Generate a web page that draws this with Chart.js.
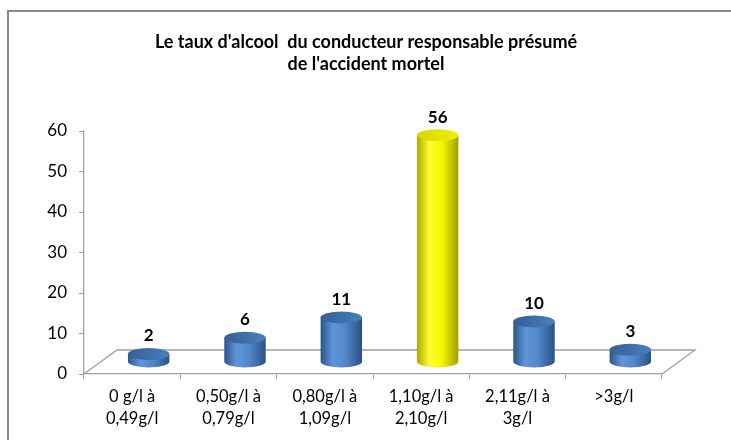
<!DOCTYPE html>
<html>
<head>
<meta charset="utf-8">
<script src="https://cdn.jsdelivr.net/npm/chart.js@4/dist/chart.umd.min.js"></script>
<style>
  html, body { margin: 0; padding: 0; background: #fff; }
  #wrap { width: 731px; height: 440px; position: relative; }
</style>
</head>
<body>
<div id="wrap"><canvas id="myChart"></canvas></div>
<script>
// data
const titleLines = ["Le taux d'alcool  du conducteur responsable présumé", "de l'accident mortel"]
const categories = [
  ['0 g/l à', '0,49g/l'],
  ['0,50g/l à', '0,79g/l'],
  ['0,80g/l à', '1,09g/l'],
  ['1,10g/l à', '2,10g/l'],
  ['2,11g/l à', '3g/l'],
  ['>3g/l']
]
const values = [2, 6, 11, 56, 10, 3]
const barTone = ['blue', 'blue', 'blue', 'yellow', 'blue', 'blue']
const yTicks = [0, 10, 20, 30, 40, 50, 60]

const FONT = 'Lato'
const AXIS_GRAY = '#a0a0a0'
// 3d depth of the floor, cylinders sit half way
const DEPTH_X = 33, DEPTH_Y = 24

const palettes = {
  blue: { stops: ['#2b5687', '#5f96da', '#5087cb', '#2a5080'], cap: ['#355f95', '#4a7ebf'] },
  yellow: { stops: ['#a9a900', '#ffff30', '#f6f600', '#a0a000'], cap: ['#d6d600', '#f0f000'] }
}

const frame = {
  id: 'frame',
  beforeDraw(chart) {
    const ctx = chart.ctx
    ctx.save()
    ctx.fillStyle = '#fff'
    ctx.fillRect(0, 0, chart.width, chart.height)
    ctx.strokeStyle = '#8a8a8a'
    ctx.lineWidth = 2
    ctx.strokeRect(8, 11, chart.width + 20, chart.height + 20)
    ctx.restore()
  },
  afterDraw(chart) {
    // title, centred on the whole frame rather than the plot box
    const ctx = chart.ctx
    ctx.save()
    ctx.fillStyle = '#000'
    ctx.font = 'bold 18px ' + FONT
    ctx.textAlign = 'center'
    ctx.textBaseline = 'middle'
    titleLines.forEach((t, i) => ctx.fillText(t, 366, 42 + i * 22))
    ctx.restore()
  }
}

const floor3d = {
  id: 'floor3d',
  beforeDatasetsDraw(chart) {
    const { ctx, chartArea } = chart
    const b = chartArea.bottom, l = chartArea.left, r = chartArea.right
    ctx.save()
    ctx.strokeStyle = AXIS_GRAY
    ctx.lineWidth = 1.3
    ctx.beginPath()
    ctx.moveTo(l, b)
    ctx.lineTo(l + DEPTH_X, b - DEPTH_Y)
    ctx.lineTo(r + DEPTH_X, b - DEPTH_Y)
    ctx.lineTo(r, b)
    ctx.stroke()
    ctx.restore()
  }
}

const cylinders = {
  id: 'cylinders',
  afterDatasetsDraw(chart) {
    const ctx = chart.ctx
    const meta = chart.getDatasetMeta(0)
    meta.data.forEach((bar, i) => {
      const p = palettes[barTone[i]]
      const cx = bar.x + DEPTH_X / 2
      const top = bar.y - DEPTH_Y / 2
      const bottom = bar.base - DEPTH_Y / 2
      const rx = bar.width / 2, ry = 6

      ctx.save()
      const g = ctx.createLinearGradient(cx - rx, 0, cx + rx, 0)
      g.addColorStop(0, p.stops[0])
      g.addColorStop(0.3, p.stops[1])
      g.addColorStop(0.6, p.stops[2])
      g.addColorStop(1, p.stops[3])
      ctx.fillStyle = g
      ctx.beginPath()
      ctx.moveTo(cx - rx, top)
      ctx.lineTo(cx - rx, bottom)
      ctx.ellipse(cx, bottom, rx, ry, 0, Math.PI, 0, true)
      ctx.lineTo(cx + rx, top)
      ctx.closePath()
      ctx.fill()

      const gc = ctx.createLinearGradient(cx - rx, 0, cx + rx, 0)
      gc.addColorStop(0, p.cap[0])
      gc.addColorStop(1, p.cap[1])
      ctx.fillStyle = gc
      ctx.beginPath()
      ctx.ellipse(cx, top, rx, ry, 0, 0, Math.PI * 2)
      ctx.fill()

      ctx.fillStyle = '#000'
      ctx.font = 'bold 17px ' + FONT
      ctx.textAlign = 'center'
      ctx.textBaseline = 'middle'
      ctx.fillText(String(values[i]), cx, top - ry - 12)
      ctx.restore()
    })
  }
}

new Chart(document.getElementById('myChart'), {
  type: 'bar',
  data: {
    labels: categories,
    datasets: [{
      data: values,
      backgroundColor: 'rgba(0,0,0,0)',
      borderWidth: 0,
      categoryPercentage: 1,
      barPercentage: 0.43
    }]
  },
  options: {
    responsive: true,
    maintainAspectRatio: false,
    animation: false,
    layout: { padding: { left: 0, right: 69, top: 131, bottom: 0 } },
    plugins: {
      legend: { display: false },
      tooltip: { enabled: false },
      title: { display: false }
    },
    scales: {
      y: {
        min: 0,
        max: 60,
        afterBuildTicks(scale) { scale.ticks = yTicks.map(v => ({ value: v })) },
        afterFit(scale) { scale.width = 84 },
        ticks: { color: '#000', font: { family: FONT, size: 17 }, padding: 12 },
        grid: { drawOnChartArea: false, tickLength: 5, color: AXIS_GRAY },
        border: { color: AXIS_GRAY, width: 1.3 }
      },
      x: {
        afterFit(scale) { scale.height = 66 },
        ticks: { color: '#000', font: { family: FONT, size: 16.5, lineHeight: 1.33 }, padding: 7, maxRotation: 0 },
        grid: { offset: true, drawOnChartArea: false, tickLength: 5, color: AXIS_GRAY },
        border: { color: AXIS_GRAY, width: 1.3 }
      }
    }
  },
  plugins: [frame, floor3d, cylinders]
})
</script>
</body>
</html>
